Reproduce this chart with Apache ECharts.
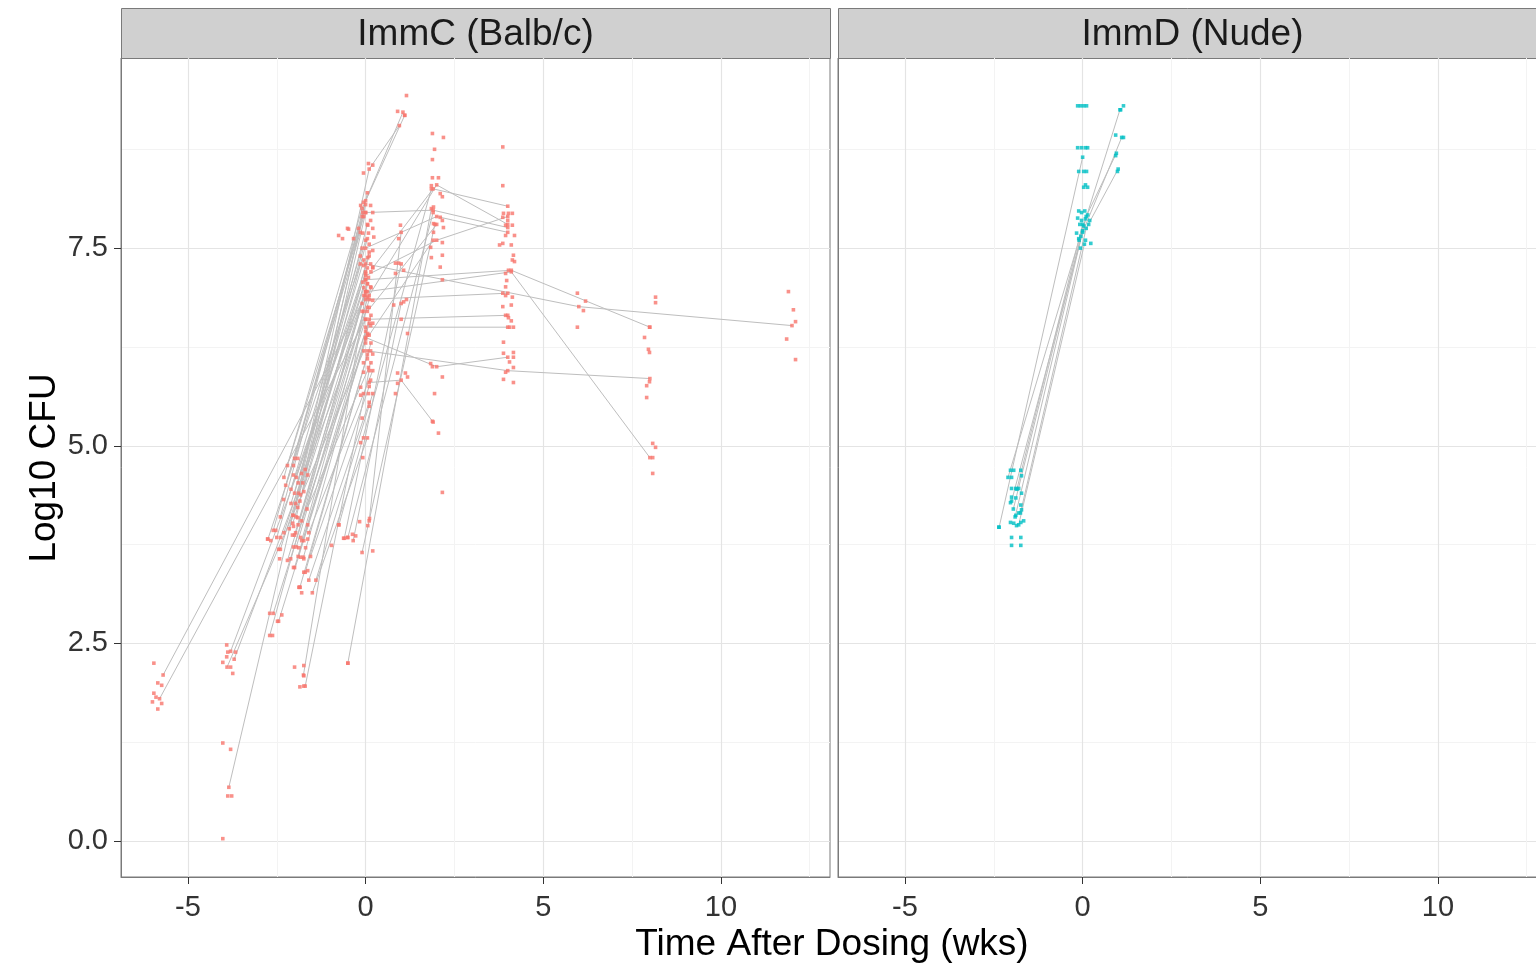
<!DOCTYPE html>
<html>
<head>
<meta charset="utf-8">
<title>Log10 CFU vs time after dosing</title>
<script src="https://cdn.jsdelivr.net/npm/echarts@6/dist/echarts.min.js"></script>
<style>
  html, body { margin: 0; padding: 0; background: #fff; }
  #chart { width: 1536px; height: 968px; }
</style>
</head>
<body>
<div id="chart"></div>
<script>
// facet labels, ticks, axis ranges
var panels = ['ImmC (Balb/c)', 'ImmD (Nude)'];
var xTicks = [-5, 0, 5, 10];
var xMinor = [-2.5, 2.5, 7.5, 12.5];
var yTicks = [0, 2.5, 5, 7.5];
var yMinor = [1.25, 3.75, 6.25, 8.75];
var xRange = [-6.885, 13.07];
var yRange = [-0.455, 9.905];

// ImmC: one path per animal, [weeks, log10 cfu]
var immcSubjects = [
  [[-2.3, 4.6], [-0.1, 8.0], [1.1, 9.18]],
  [[-2.2, 4.75], [-0.05, 7.9]],
  [[-2.0, 4.84], [0.0, 8.1], [1.05, 9.22]],
  [[-1.9, 4.53], [0.05, 7.8]],
  [[-1.8, 4.65], [0.1, 8.5], [0.95, 9.05]],
  [[-2.0, 4.4], [0.0, 7.6]],
  [[-1.85, 4.3], [0.1, 7.45]],
  [[-2.1, 4.27], [-0.05, 7.35]],
  [[-2.05, 4.12], [0.0, 7.2]],
  [[-1.9, 4.0], [0.05, 7.05]],
  [[-2.0, 3.87], [0.0, 6.95]],
  [[-1.8, 3.8], [0.1, 6.85]],
  [[-1.95, 3.72], [-0.05, 6.7]],
  [[-1.75, 3.59], [0.1, 6.55]],
  [[-2.0, 3.46], [0.0, 6.45]],
  [[-1.7, 3.4], [0.15, 6.3]],
  [[-1.85, 3.21], [0.05, 6.15]],
  [[-2.6, 3.93], [-0.2, 7.75]],
  [[-2.5, 3.84], [-0.1, 7.5]],
  [[-2.75, 3.82], [-0.15, 7.3]],
  [[-2.4, 3.69], [-0.05, 7.0]],
  [[-2.6, 2.88], [0.0, 6.6]],
  [[-2.45, 2.78], [0.05, 6.4]],
  [[-2.7, 2.6], [-0.1, 6.8]],
  [[-1.65, 4.2], [0.15, 6.05]],
  [[-1.6, 3.9], [0.2, 5.95]],
  [[-1.55, 3.6], [0.1, 5.75]],
  [[-1.5, 3.14], [0.05, 5.1]],
  [[-1.4, 3.3], [0.2, 5.66]],
  [[-2.2, 3.55], [0.15, 7.0]],
  [[-1.95, 4.1], [0.0, 7.95]],
  [[-2.15, 3.95], [0.05, 7.62]],
  [[-2.25, 4.5], [-0.15, 7.7]],
  [[-2.1, 4.45], [0.05, 7.25]],
  [[-1.95, 4.6], [0.1, 7.4]],
  [[-2.05, 4.02], [-0.05, 6.9]],
  [[-1.8, 4.05], [0.15, 6.65]],
  [[-1.9, 3.6], [0.0, 6.35]],
  [[-2.3, 3.9], [0.0, 7.1]],
  [[-1.6, 3.3], [0.1, 5.55]],
  [[-1.7, 4.7], [0.05, 8.2]],
  [[-2.4, 4.1], [-0.1, 7.9]],
  [[-0.75, 4.0], [1.85, 8.25]],
  [[-0.6, 3.83], [1.0, 7.3]],
  [[-0.5, 3.84], [1.9, 7.95]],
  [[-0.35, 3.8], [1.0, 6.8]],
  [[-0.1, 3.65], [1.95, 7.8]],
  [[-1.75, 2.1], [0.05, 7.05]],
  [[-1.7, 1.96], [0.1, 5.95]],
  [[-3.85, 0.68], [0.0, 8.05]],
  [[-3.8, 2.4], [0.0, 6.95]],
  [[-3.7, 2.3], [0.05, 6.75]],
  [[-3.9, 2.2], [-0.05, 6.2]],
  [[-5.7, 2.1], [0.0, 6.9]],
  [[-5.8, 1.8], [0.0, 6.6]],
  [[0.0, 7.95], [1.9, 7.98], [4.0, 7.76]],
  [[0.2, 7.25], [1.9, 8.25], [4.0, 8.03]],
  [[0.1, 6.9], [2.0, 8.3], [4.0, 7.8]],
  [[0.0, 7.3], [6.0, 6.76], [12.0, 6.52]],
  [[0.0, 7.1], [4.1, 7.22], [8.0, 6.5]],
  [[0.05, 6.95], [4.1, 7.2], [8.0, 4.85]],
  [[0.0, 6.85], [4.0, 6.93]],
  [[0.1, 6.6], [4.0, 6.65]],
  [[0.0, 6.5], [4.0, 6.5]],
  [[0.0, 6.37], [2.0, 6.0], [4.0, 6.12]],
  [[0.05, 6.2], [4.0, 5.95], [8.0, 5.85]],
  [[0.1, 5.8], [1.0, 5.83], [1.9, 5.3]],
  [[-0.5, 2.25], [1.85, 8.0]],
  [[0.1, 4.05], [1.0, 7.7]],
  [[0.0, 7.5], [2.0, 7.9], [4.0, 7.7]],
  [[0.0, 7.15], [2.0, 7.6], [4.0, 7.9]],
  [[0.05, 6.7], [2.0, 7.8]],
  [[0.1, 6.4], [1.9, 7.6]]
];

// ImmC: remaining observations
var immcPoints = [
  [-5.96, 2.25], [-5.85, 2.0], [-5.74, 1.97], [-5.96, 1.87], [-5.9, 1.82], [-6.0, 1.76], [-5.74, 1.74], [-5.85, 1.67],
  [-3.91, 2.48], [-3.88, 2.39], [-3.66, 2.39], [-3.91, 2.33], [-4.02, 2.26], [-3.8, 2.2], [-3.74, 2.12],
  [-4.02, 1.24], [-3.8, 1.16], [-3.88, 0.57], [-3.77, 0.57], [-4.02, 0.03],
  [-2.76, 3.82], [-2.67, 3.8], [-2.53, 3.93], [-2.39, 3.84], [-2.45, 3.69], [-2.42, 3.57],
  [-2.7, 2.88], [-2.48, 2.78], [-2.36, 2.86], [-2.62, 2.6],
  [-2.03, 4.75], [-1.91, 4.84], [-2.03, 4.63], [-1.77, 4.53], [-1.63, 4.63], [-1.88, 4.4], [-1.83, 4.38],
  [-1.74, 4.42], [-1.97, 4.27], [-1.91, 4.22], [-2.31, 4.32], [-2.03, 4.12], [-1.91, 4.09], [-1.63, 4.0],
  [-2.03, 3.98], [-2.06, 3.87], [-1.97, 3.9], [-1.83, 3.84], [-1.74, 3.8], [-1.63, 3.82], [-2.03, 3.72],
  [-1.88, 3.71], [-1.69, 3.71], [-1.83, 3.59], [-1.74, 3.57], [-2.11, 3.57], [-2.03, 3.46], [-1.74, 3.4],
  [-1.63, 3.42], [-1.85, 3.21], [-1.8, 3.14], [-1.88, 3.21], [-2.0, 2.2], [-1.74, 2.22], [-1.74, 2.09],
  [-1.85, 1.95], [-1.74, 1.96],
  [-0.76, 4.0], [-0.62, 3.83], [-0.51, 3.84], [-0.37, 3.88], [-0.28, 3.86], [-0.17, 4.04], [0.06, 3.99],
  [0.11, 4.08], [0.2, 3.67], [-0.96, 3.74], [-0.5, 2.25],
  [0.2, 8.55], [0.08, 8.57], [-0.06, 8.45], [-0.06, 8.08], [-0.14, 8.04], [-0.08, 7.95], [0.14, 8.04],
  [0.2, 7.95], [0.14, 7.85], [0.06, 7.79], [0.2, 7.75], [-0.51, 7.75], [-0.34, 7.62], [-0.65, 7.62],
  [0.23, 7.64], [0.08, 7.69], [0.2, 7.47], [0.06, 7.38], [0.14, 7.3], [-0.06, 7.28], [0.2, 7.26],
  [0.0, 7.18], [0.08, 7.13], [-0.08, 7.07], [0.14, 7.01], [0.06, 6.88], [0.2, 6.84], [0.14, 6.52],
  [0.2, 6.55], [0.06, 6.42], [0.0, 6.3], [0.14, 6.2], [0.2, 6.16], [-0.06, 6.05], [0.08, 5.99],
  [-0.06, 5.93], [0.14, 5.83], [-0.14, 5.74], [-0.06, 5.66], [0.08, 5.66], [-0.14, 5.64], [-0.06, 5.1],
  [-0.14, 5.04], [-0.08, 4.85], [-0.76, 7.66], [-0.48, 7.74], [-0.08, 7.69], [-0.1, 6.7], [0.1, 6.75],
  [0.0, 6.95], [-0.15, 7.4], [0.1, 7.55], [0.15, 7.2], [0.05, 6.1], [0.1, 5.5], [-0.1, 5.35],
  [1.15, 9.43], [0.9, 9.23], [1.1, 9.18], [0.98, 7.79], [0.93, 7.62], [0.84, 7.31], [0.93, 7.31],
  [1.07, 7.22], [0.84, 7.18], [0.79, 6.78], [1.07, 6.82], [0.9, 5.92], [1.12, 5.92], [1.18, 5.87],
  [0.9, 5.79], [0.84, 5.66], [1.18, 6.42], [1.0, 6.6], [1.15, 6.85],
  [1.88, 8.95], [2.19, 8.9], [1.94, 8.75], [1.88, 8.62], [1.88, 8.39], [2.05, 8.39], [1.85, 8.29],
  [2.1, 8.19], [2.16, 8.15], [1.91, 8.02], [2.1, 7.89], [2.16, 7.85], [1.91, 7.81], [2.19, 7.76],
  [1.91, 7.7], [2.16, 7.57], [1.83, 7.51], [2.16, 7.41], [1.85, 7.38], [2.1, 7.26], [2.16, 7.1],
  [1.83, 6.04], [1.88, 6.0], [2.16, 5.87], [1.94, 5.66], [1.88, 5.31], [2.05, 5.16], [2.16, 4.41],
  [3.86, 8.78], [3.86, 8.29], [3.88, 7.94], [4.02, 7.94], [4.13, 7.94], [3.86, 7.89], [4.0, 7.85],
  [3.94, 7.79], [4.13, 7.79], [3.94, 7.66], [4.19, 7.66], [3.86, 7.56], [3.77, 7.54], [4.1, 7.54],
  [4.16, 7.41], [4.13, 7.35], [4.19, 7.33], [4.02, 7.22], [3.94, 7.18], [3.97, 7.09], [3.94, 7.01],
  [3.86, 6.93], [3.94, 6.9], [4.13, 6.88], [4.1, 6.78], [3.86, 6.76], [3.94, 6.65], [4.02, 6.62],
  [4.1, 6.58], [4.16, 6.5], [4.05, 6.5], [3.88, 6.31], [4.16, 6.18], [3.88, 6.17], [4.16, 6.12],
  [4.05, 6.06], [4.16, 5.99], [3.94, 5.93], [3.88, 5.84], [4.16, 5.8],
  [5.96, 6.93], [6.19, 6.83], [6.13, 6.71], [5.96, 6.5],
  [8.16, 6.88], [8.16, 6.81], [7.99, 6.5], [7.85, 6.37], [7.96, 6.22], [7.99, 6.18], [7.99, 5.81],
  [7.91, 5.76], [7.91, 5.61], [8.08, 5.03], [8.16, 4.98], [8.08, 4.85], [8.08, 4.65],
  [11.9, 6.95], [12.04, 6.72], [12.1, 6.57], [11.85, 6.35], [12.1, 6.09]
];

// ImmD: one path per animal
var immdSubjects = [
  [[-2.35, 3.97], [0.0, 8.65]],
  [[-2.1, 4.6], [-0.1, 7.6], [1.05, 9.25]],
  [[-2.0, 4.3], [0.0, 7.7], [1.1, 8.9]],
  [[-1.9, 4.1], [0.1, 7.9], [0.95, 8.7]],
  [[-1.8, 4.0], [0.05, 7.55]],
  [[-1.85, 4.45], [0.0, 7.8]],
  [[-1.95, 4.2], [-0.05, 7.65]],
  [[-1.75, 4.15], [0.1, 7.75], [1.0, 8.5]]
];

// ImmD: remaining observations
var immdPoints = [
  [-0.14, 9.3], [-0.06, 9.3], [0.03, 9.3], [0.11, 9.3], [-0.14, 8.77], [-0.03, 8.77], [0.08, 8.77],
  [0.14, 8.77], [-0.11, 8.47], [0.03, 8.47], [0.11, 8.47], [0.03, 8.27], [0.14, 8.27], [0.08, 8.3],
  [-0.11, 7.97], [-0.03, 7.95], [0.06, 7.97], [0.14, 7.92], [-0.14, 7.88], [-0.03, 7.85], [0.08, 7.87],
  [0.2, 7.85], [-0.08, 7.8], [0.03, 7.78], [0.17, 7.8], [-0.17, 7.69], [-0.11, 7.62], [0.08, 7.6],
  [0.23, 7.56], [-0.06, 7.5], [0.0, 7.72],
  [1.15, 9.3], [1.07, 9.25], [0.93, 8.93], [1.15, 8.9], [0.93, 8.67], [0.98, 8.47],
  [-2.03, 4.69], [-1.94, 4.69], [-1.74, 4.69], [-2.0, 4.6], [-1.72, 4.62], [-2.0, 4.46], [-1.88, 4.46],
  [-1.8, 4.46], [-2.0, 4.35], [-1.88, 4.34], [-2.03, 4.28], [-1.74, 4.25], [-1.88, 4.12], [-1.8, 4.15],
  [-1.72, 4.19], [-2.03, 4.03], [-1.94, 4.02], [-1.86, 3.99], [-1.74, 4.03], [-2.0, 3.84], [-1.74, 3.84],
  [-2.0, 3.74], [-1.74, 3.74], [-2.36, 3.97], [-1.66, 4.05], [-1.72, 4.4]
];

var FONT = 'Liberation Sans, Arial, Helvetica, sans-serif';
var panelBoxes = [
  { left: 121, top: 58, width: 709, height: 819 },
  { left: 838, top: 58, width: 709, height: 819 }
];

var grids = [], xAxes = [], yAxes = [], series = [], graphics = [];

panelBoxes.forEach(function (b, i) {
  grids.push({ left: b.left, top: b.top, width: b.width, height: b.height,
    outerBoundsMode: 'none', containLabel: false,
    show: true, borderColor: '#7a7a7a', borderWidth: 1, backgroundColor: '#fff' });

  // main x axis (labels, ticks, major grid)
  xAxes.push({
    type: 'value', gridIndex: i, min: xRange[0], max: xRange[1], position: 'bottom',
    axisLine: { show: true, onZero: false, lineStyle: { color: '#7a7a7a', width: 1 } },
    axisTick: { show: true, length: 7, lineStyle: { color: '#333' }, customValues: xTicks },
    axisLabel: { show: true, customValues: xTicks, fontSize: 29, color: '#333',
      fontFamily: FONT, margin: 16 },
    splitLine: { show: true, lineStyle: { color: '#e4e4e4', width: 1.2 } }
  });
  yAxes.push({
    type: 'value', gridIndex: i, min: yRange[0], max: yRange[1], position: 'left',
    axisLine: { show: true, onZero: false, lineStyle: { color: '#7a7a7a', width: 1 } },
    axisTick: { show: i === 0, length: 7, lineStyle: { color: '#333' }, customValues: yTicks },
    axisLabel: { show: i === 0, customValues: yTicks, fontSize: 29, color: '#333',
      fontFamily: FONT, margin: 13,
      formatter: function (v) { return v.toFixed(1); } },
    splitLine: { show: true, lineStyle: { color: '#e4e4e4', width: 1.2 } }
  });

  // strip on top of the panel
  graphics.push({
    type: 'rect', left: b.left, top: 8,
    shape: { width: b.width, height: 50 },
    style: { fill: '#d0d0d0', stroke: '#7a7a7a', lineWidth: 1 }
  });
  graphics.push({
    type: 'text', x: b.left + b.width / 2, y: 35,
    style: { text: panels[i], fontSize: 37, fontFamily: FONT, fill: '#1a1a1a',
      align: 'center', verticalAlign: 'middle' }
  });
});

// minor grid lines on extra hidden axes
panelBoxes.forEach(function (b, i) {
  xAxes.push({
    type: 'value', gridIndex: i, min: xRange[0], max: xRange[1],
    axisLine: { show: false, onZero: false }, axisLabel: { show: false },
    axisTick: { show: false, customValues: xMinor },
    splitLine: { show: true, lineStyle: { color: '#f3f3f3', width: 1 } }
  });
  yAxes.push({
    type: 'value', gridIndex: i, min: yRange[0], max: yRange[1],
    axisLine: { show: false, onZero: false }, axisLabel: { show: false },
    axisTick: { show: false, customValues: yMinor },
    splitLine: { show: true, lineStyle: { color: '#f3f3f3', width: 1 } }
  });
});

function addPanel(i, subjects, points, color) {
  var all = points.slice();
  subjects.forEach(function (path) {
    series.push({
      type: 'line', xAxisIndex: i, yAxisIndex: i, data: path,
      symbol: 'none', silent: true, z: 2,
      lineStyle: { color: '#bebebe', width: 1 }
    });
    path.forEach(function (p) { all.push(p); });
  });
  series.push({
    type: 'scatter', xAxisIndex: i, yAxisIndex: i, data: all,
    symbol: 'rect', symbolSize: 3.6, z: 3, silent: true,
    itemStyle: { color: color }
  });
}
addPanel(0, immcSubjects, immcPoints, '#F8766D');
addPanel(1, immdSubjects, immdPoints, '#00BFC4');

graphics.push({
  type: 'text', x: 832, y: 945,
  style: { text: 'Time After Dosing (wks)', fontSize: 37, fontFamily: FONT, fill: '#000',
    align: 'center', verticalAlign: 'middle' }
});
graphics.push({
  type: 'text', x: 45, y: 468, rotation: Math.PI / 2,
  style: { text: 'Log10 CFU', fontSize: 37, fontFamily: FONT, fill: '#000',
    align: 'center', verticalAlign: 'middle' }
});

var chart = echarts.init(document.getElementById('chart'));
chart.setOption({
  animation: false,
  backgroundColor: '#fff',
  grid: grids,
  xAxis: xAxes,
  yAxis: yAxes,
  series: series,
  graphic: graphics
});
</script>
</body>
</html>
